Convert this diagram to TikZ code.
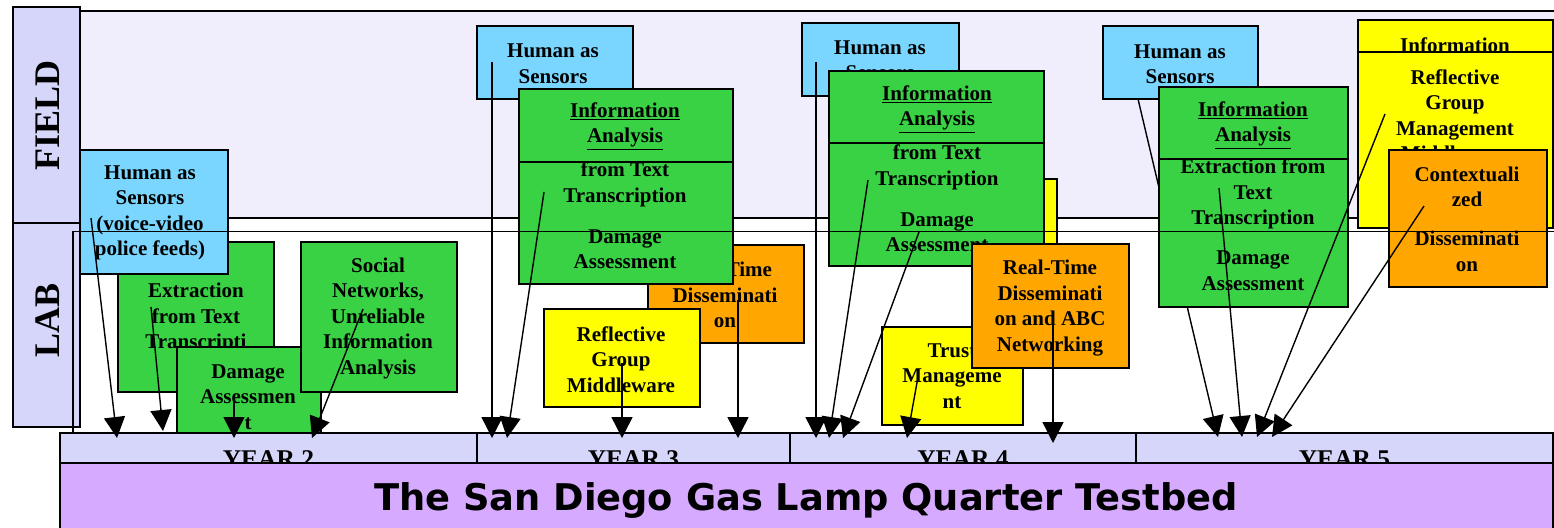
\documentclass[tikz,border=0pt]{standalone}
\usepackage{fontspec}
\setmainfont{Liberation Serif}
\newfontfamily\titlefont{DejaVu Sans}
\usetikzlibrary{arrows.meta}
\definecolor{cblue}{RGB}{122,214,255}
\definecolor{cgreen}{RGB}{57,210,68}
\definecolor{cyellow}{RGB}{255,255,0}
\definecolor{corange}{RGB}{255,166,0}
\definecolor{cfield}{RGB}{240,238,253}
\definecolor{clav}{RGB}{214,214,250}
\definecolor{cpurple}{RGB}{214,170,254}
\tikzset{
  bxs/.style={draw=black, line width=1.6pt, inner sep=0pt, outer sep=0pt},
  bbox/.style={bxs, fill=cblue},
  gbox/.style={bxs, fill=cgreen},
  ybox/.style={bxs, fill=cyellow},
  obox/.style={bxs, fill=corange},
  txt/.style={font=\fontsize{21}{25.5}\selectfont\bfseries, align=center, inner sep=0pt},
  sidetxt/.style={font=\fontsize{36}{40}\selectfont\bfseries, rotate=90, inner sep=0pt},
  yeartxt/.style={font=\fontsize{25.5}{28}\selectfont\bfseries, inner sep=0pt, anchor=base},
  titletxt/.style={font=\titlefont\bfseries\fontsize{36.8}{40}\selectfont, inner sep=0pt, anchor=base},
  divl/.style={draw=black, line width=1.6pt},
  arr/.style={draw=black, line width=1.4pt, -{Triangle[length=21pt,width=21pt]}},
}
\newcommand\bx[6]{\node[#2, minimum width={#5-#3}, minimum height={#6-#4}, anchor=north west] (#1) at (#3,#4) {};}
\begin{document}
\begin{tikzpicture}[x=1pt,y=-1pt]
\useasboundingbox (0,0) rectangle (1554,527);
% frames and side labels
\bx{field}{bxs,fill=cfield}{80}{11}{1562}{218}
\bx{fieldlab}{bxs,fill=clav}{13}{7}{80}{223}
\node[sidetxt] (fieldt) at (48,115.5) {FIELD};
\bx{lablab}{bxs,fill=clav}{13}{223}{80}{427}
\node[sidetxt] (labt) at (48,320) {LAB};
% year bar
\bx{yr2}{bxs,fill=clav}{60}{433}{477}{463}
\bx{yr3}{bxs,fill=clav}{477}{433}{790}{463}
\bx{yr4}{bxs,fill=clav}{790}{433}{1136}{463}
\bx{yr5}{bxs,fill=clav}{1136}{433}{1553}{463}
\node[yeartxt] (yr2t) at (268.5,467) {YEAR 2};
\node[yeartxt] (yr3t) at (633.5,467) {YEAR 3};
\node[yeartxt] (yr4t) at (963,467) {YEAR 4};
\node[yeartxt] (yr5t) at (1344.5,467) {YEAR 5};
\bx{testbed}{bxs,fill=cpurple}{60}{463}{1553}{548}
\node[titletxt] (testbedt) at (806,510) {The San Diego Gas Lamp Quarter Testbed};
% lab frame
\bx{lab}{bxs}{73}{231.5}{1562}{433}
% ---- year 2
\bx{ext2}{gbox}{118}{242}{274}{392}
\node[txt] (ext2t) at (196,318) {Extraction\\from Text\\Transcripti};
\bx{dmg2}{gbox}{177}{347}{321}{433}
\node[txt] (dmg2t) at (248,397) {Damage\\Assessmen\\t};
\bx{soc2}{gbox}{301}{242}{457}{392}
\node[txt] (soc2t) at (378,318) {Social\\Networks,\\Unreliable\\Information\\Analysis};
\bx{hum2}{bbox}{80}{150}{228}{274}
\node[txt] (hum2t) at (150,213) {Human as\\Sensors\\(voice-video\\police feeds)};
% ---- year 3
\bx{hum3}{bbox}{477}{26}{633}{99}
\node[txt] (hum3t) at (553,63.5) {Human as\\Sensors};
\bx{rt3}{obox}{648}{245}{804}{343}
\node[txt] (rt3t) at (725,295) {Real-Time\\Disseminati\\on};
\bx{rg3}{ybox}{544}{309}{700}{407}
\node[txt] (rg3t) at (621,359.5) {Reflective\\Group\\Middleware};
\bx{ia3}{gbox}{519}{89}{733}{284}
\draw[divl] (519,162) -- (733,162);
\node[txt] (ia3a) at (625,126) {\underline{Information}\\\underline{Analysis}};
\node[txt] (ia3b) at (625,184.5) {from Text\\Transcription};
\node[txt] (ia3c) at (625,249) {Damage\\Assessment};
% ---- year 4
\bx{hum4}{bbox}{802}{23}{959}{96}
\node[txt] (hum4t) at (880,60) {Human as\\Sensors};
\bx{hy4}{ybox}{900}{179}{1057}{262}
\bx{ia4}{gbox}{829}{71}{1044}{266}
\draw[divl] (829,143) -- (1044,143);
\node[txt] (ia4a) at (937,109) {\underline{Information}\\\underline{Analysis}};
\node[txt] (ia4b) at (937,167.5) {from Text\\Transcription};
\node[txt] (ia4c) at (937,232) {Damage\\Assessment};
\bx{tm4}{ybox}{882}{327}{1023}{425}
\node[txt] (tm4t) at (952,376) {Trust\\Manageme\\nt};
\bx{rt4}{obox}{972}{244}{1129}{368}
\node[txt] (rt4t) at (1050,308) {Real-Time\\Disseminati\\on and ABC\\Networking};
% ---- year 5
\bx{hum5}{bbox}{1103}{26}{1258}{99}
\node[txt] (hum5t) at (1180,64) {Human as\\Sensors};
\coordinate (d1s) at (1138,99);
\coordinate (d1e) at (1218,437);
\draw[arr] (d1s) -- (d1e);
\bx{ia5}{gbox}{1159}{87}{1348}{307}
\draw[divl] (1159,159) -- (1348,159);
\node[txt] (ia5a) at (1253,125) {\underline{Information}\\\underline{Analysis}};
\node[txt] (ia5b) at (1253,194) {Extraction from\\Text\\Transcription};
\node[txt] (ia5c) at (1253,270.5) {Damage\\Assessment};
\bx{rg5}{ybox}{1358}{20}{1553}{228}
\node[txt] (rg5a) at (1455,45) {Information};
\draw[divl] (1358,52) -- (1553,52);
\node[txt] (rg5b) at (1455,115) {Reflective\\Group\\Management\\Middleware};
\bx{cd5}{obox}{1389}{150}{1547}{287}
\node[txt] (cd5a) at (1467,187) {Contextuali\\zed};
\node[txt] (cd5b) at (1467,251.5) {Disseminati\\on};
% lab frame top line over boxes
\draw[divl] (73,231.5) -- (1562,231.5);
% ---- arrows
\foreach \n/\sx/\sy/\ex/\ey in {
  a1/91/218/117/438, a2/151/307/163/431, a3/234/400/234/438, a4/363/309/312/438,
  b1/492/62/492/438, b2/544/192/507/438, b3/622/363/622/438, b4/738/300/738/438,
  c1/816/62/816/438, c2/868/180/829/438, c3/919/232/843/438, c4/918/377/907/438, c5/1053/325/1053/443,
  d2/1219/188/1242/437, d3/1385/114/1257/437, d4/1424/206/1272/437}{
  \coordinate (\n s) at (\sx,\sy);
  \coordinate (\n e) at (\ex,\ey);
  \draw[arr] (\n s) -- (\n e);
}
\end{tikzpicture}
\end{document}
